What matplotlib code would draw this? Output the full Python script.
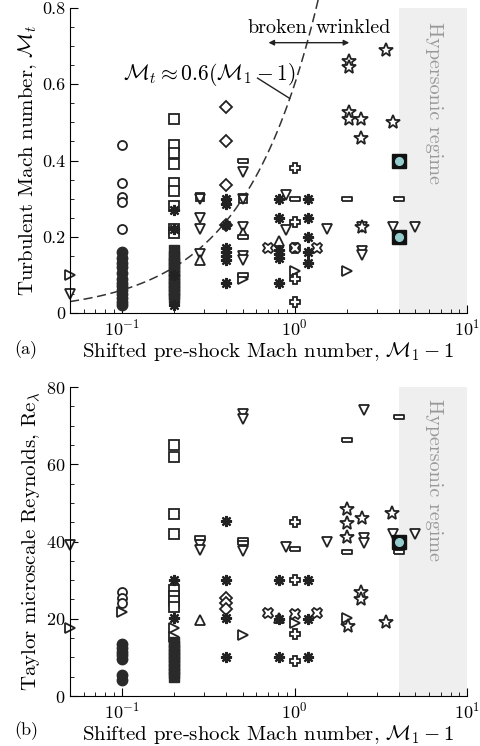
import numpy as np
import matplotlib
matplotlib.use('Agg')
import matplotlib.pyplot as plt
from matplotlib.ticker import MultipleLocator, LogLocator, NullFormatter

plt.rcParams['font.family'] = 'cmr10'
plt.rcParams['mathtext.fontset'] = 'cm'
plt.rcParams['axes.formatter.use_mathtext'] = True
plt.rcParams['axes.unicode_minus'] = False

# ---- data: panel (a), turbulent Mach number ----
mt_circ_open = [0.44, 0.34, 0.305, 0.29, 0.22]
mt_circ_fill = [0.16, 0.145, 0.13, 0.12, 0.105, 0.09, 0.08, 0.07, 0.06, 0.05, 0.04, 0.03, 0.02]
mt_sq_open = [0.51, 0.44, 0.42, 0.39, 0.34, 0.32, 0.28, 0.22, 0.21]
mt_sq_fill = [0.165, 0.15, 0.14, 0.13, 0.12, 0.11, 0.10, 0.09, 0.08, 0.07, 0.06, 0.05, 0.04]
mt_ast_x = [0.2, 0.2, 0.2, 0.2, 0.4, 0.4, 0.4, 0.4, 0.4, 0.4, 0.4, 0.4,
            0.81, 0.81, 0.81, 0.81, 0.81, 0.81, 1.2, 1.2, 1.2, 1.2, 1.2]
mt_ast_y = [0.27, 0.22, 0.10, 0.02, 0.30, 0.285, 0.23, 0.17, 0.16, 0.15, 0.14, 0.078,
            0.30, 0.25, 0.165, 0.155, 0.145, 0.078, 0.30, 0.25, 0.20, 0.16, 0.13]
mt_tdn_x = [0.05, 0.283, 0.283, 0.283, 0.283, 0.5, 0.5, 0.5, 0.5, 0.5, 0.89, 0.89, 1.53,
            2.47, 2.47, 2.47, 3.7, 5.0]
mt_tdn_y = [0.05, 0.30, 0.25, 0.22, 0.155, 0.37, 0.30, 0.225, 0.15, 0.14, 0.31, 0.218, 0.22,
            0.226, 0.163, 0.153, 0.226, 0.226]
mt_tup_x = [0.283, 0.5, 0.81]
mt_tup_y = [0.14, 0.21, 0.19]
mt_trt_x = [0.05, 0.5, 1.0, 2.0]
mt_trt_y = [0.10, 0.09, 0.11, 0.11]
mt_boxq_x = [0.283, 0.5]
mt_boxq_y = [0.305, 0.30]
mt_rect_x = [0.5, 0.5, 0.5, 1.0, 2.0, 4.0]
mt_rect_y = [0.40, 0.20, 0.10, 0.30, 0.30, 0.30]
mt_dia_x = [0.4, 0.4, 0.4, 0.4]
mt_dia_y = [0.54, 0.45, 0.335, 0.23]
mt_plus_x = [1.0, 1.0, 1.0, 1.0, 1.0]
mt_plus_y = [0.38, 0.24, 0.17, 0.09, 0.03]
mt_x_x = [0.7, 1.0, 1.34]
mt_x_y = [0.17, 0.17, 0.17]
mt_star_x = [2.07, 2.07, 2.07, 2.07, 2.43, 2.43, 3.4, 3.7, 2.47]
mt_star_y = [0.66, 0.645, 0.527, 0.51, 0.51, 0.46, 0.69, 0.50, 0.226]
mt_cyan_x = [4.0, 4.0]
mt_cyan_y = [0.40, 0.20]

# ---- data: panel (b), Taylor microscale Reynolds number ----
re_circ_open = [27, 25.4, 24]
re_circ_fill = [13.5, 12.5, 11.5, 10.5, 9.5, 5.5, 4.2]
re_sq_open = [65, 62, 47, 42, 27.5, 26, 24.5, 23]
re_sq_fill = [14, 13, 12, 11, 10, 9, 8, 7, 6, 5]
re_ast_x = [0.2, 0.2, 0.4, 0.4, 0.4, 0.4, 0.81, 0.81, 0.81, 1.2, 1.2, 1.2]
re_ast_y = [30, 20.2, 45.2, 30, 20.2, 10, 30, 20, 10, 30, 20, 10]
re_trt_x = [0.05, 0.1, 0.2, 0.2, 0.5, 1.0, 2.0]
re_trt_y = [17.7, 21.8, 17.7, 15.3, 15.8, 19, 20.3]
re_tdn_x = [0.05, 0.283, 0.283, 0.5, 0.5, 0.5, 0.5, 0.89, 1.53, 2.53, 2.53, 2.53, 3.7, 5.0]
re_tdn_y = [39, 39, 37.7, 73, 71.7, 38.7, 37.5, 38.7, 40, 74, 41, 39.7, 42, 42]
re_tup_x = [0.283, 0.81]
re_tup_y = [19.7, 20.3]
re_rect_x = [0.283, 0.5, 0.5, 1.0, 2.0, 2.0, 4.0, 4.0]
re_rect_y = [41, 40.5, 39.5, 38, 66.2, 37.2, 72.2, 37.2]
re_dia_x = [0.4, 0.4, 0.4]
re_dia_y = [25.5, 24, 22.5]
re_plus_x = [1.0, 1.0, 1.0, 1.0]
re_plus_y = [45, 30, 16, 9.1]
re_x_x = [0.7, 1.0, 1.34]
re_x_y = [21.5, 21.3, 21.5]
re_star_x = [2.0, 2.0, 2.0, 2.47, 3.67, 2.43, 2.43, 2.05, 3.4]
re_star_y = [48.3, 44.7, 41.3, 46.2, 47.3, 27, 25, 18, 19.2]
re_cyan_x = [4.0]
re_cyan_y = [40]

hyper_start = 4.0
curve_coef = 0.6

ec = '#222222'
rect_marker = [(-1, -0.4), (1, -0.4), (1, 0.4), (-1, 0.4), (-1, -0.4)]
open_kw = dict(ls='none', mfc='white', mec=ec, mew=1.3)


def draw_points(ax, d):
    ax.plot(d['trt'][0], d['trt'][1], marker='>', ms=7.5, **open_kw)
    ax.plot(d['tdn'][0], d['tdn'][1], marker='v', ms=7.5, **open_kw)
    ax.plot(d['tup'][0], d['tup'][1], marker='^', ms=7.5, **open_kw)
    ax.plot([0.1] * len(d['co']), d['co'], marker='o', ms=6.5, **open_kw)
    ax.plot([0.1] * len(d['cf']), d['cf'], marker='o', ms=7.5, ls='none', mfc='#2a2a2a', mec='#2a2a2a')
    ax.plot([0.2] * len(d['so']), d['so'], marker='s', ms=6.5, **open_kw)
    ax.plot([0.2] * len(d['sf']), d['sf'], marker='s', ms=7.5, ls='none', mfc='#2a2a2a', mec='#2a2a2a')
    if d.get('bq'):
        ax.plot(d['bq'][0], d['bq'][1], marker='s', ms=6, ls='none', mfc='none', mec=ec, mew=1.3)
    ax.plot(d['rect'][0], d['rect'][1], marker=rect_marker, ms=7.5, **open_kw)
    ax.plot(d['dia'][0], d['dia'][1], marker='D', ms=6.5, **open_kw)
    ax.plot(d['plus'][0], d['plus'][1], marker='P', ms=7.5, **open_kw)
    ax.plot(d['x'][0], d['x'][1], marker='X', ms=7.5, **open_kw)
    ax.plot(d['ast'][0], d['ast'][1], marker=(8, 2, 0), ms=8, ls='none', mec=ec, mew=1.6)
    ax.plot(d['star'][0], d['star'][1], marker='*', ms=10, **open_kw)
    ax.plot(d['cyan'][0], d['cyan'][1], marker='s', ms=9.5, ls='none', mfc='#111111', mec='#111111')
    ax.plot(d['cyan'][0], d['cyan'][1], marker='o', ms=5.5, ls='none', mfc='#96cccc', mec='#96cccc')


def style_axes(ax, minor_step):
    ax.set_xscale('log')
    ax.set_xlim(0.05, 10)
    ax.axvspan(hyper_start, 10, color='#efefef', zorder=0, lw=0)
    ax.spines['top'].set_visible(False)
    ax.spines['right'].set_visible(False)
    ax.tick_params(which='both', direction='in', labelsize=13)
    ax.tick_params(which='major', length=6)
    ax.tick_params(which='minor', length=3)
    ax.yaxis.set_minor_locator(MultipleLocator(minor_step))
    ax.xaxis.set_major_locator(LogLocator(base=10))
    ax.xaxis.set_minor_locator(LogLocator(base=10, subs=np.arange(2, 10)))
    ax.xaxis.set_minor_formatter(NullFormatter())
    ax.set_xlabel(r'Shifted pre-shock Mach number, $\mathcal{M}_1-1$', fontsize=15, labelpad=1)


fig = plt.figure(figsize=(4.81, 7.46), dpi=100)
ax1 = fig.add_axes([0.1455, 0.5804, 0.826, 0.4089])
ax2 = fig.add_axes([0.1455, 0.067, 0.826, 0.4142])

# panel (a)
style_axes(ax1, 0.05)
ax1.set_ylim(0, 0.8)
ax1.yaxis.set_major_locator(MultipleLocator(0.2))
ax1.yaxis.set_major_formatter(plt.FuncFormatter(lambda v, p: '0' if v == 0 else '%.1f' % v))
xc = np.logspace(np.log10(0.05), np.log10(1.4), 200)
ax1.plot(xc, curve_coef * xc, ls=(0, (6, 3)), color='#333333', lw=1.1, zorder=1)
draw_points(ax1, dict(co=mt_circ_open, cf=mt_circ_fill, so=mt_sq_open, sf=mt_sq_fill,
                      ast=(mt_ast_x, mt_ast_y), tdn=(mt_tdn_x, mt_tdn_y), tup=(mt_tup_x, mt_tup_y),
                      trt=(mt_trt_x, mt_trt_y), bq=(mt_boxq_x, mt_boxq_y), rect=(mt_rect_x, mt_rect_y),
                      dia=(mt_dia_x, mt_dia_y), plus=(mt_plus_x, mt_plus_y), x=(mt_x_x, mt_x_y),
                      star=(mt_star_x, mt_star_y), cyan=(mt_cyan_x, mt_cyan_y)))
ax1.set_ylabel(r'Turbulent Mach number, $\mathcal{M}_t$', fontsize=15, labelpad=2)
ax1.text(0.102, 0.626, r'$\mathcal{M}_t \approx 0.6(\mathcal{M}_1-1)$', fontsize=15.5, va='center')
ax1.plot([0.61, 0.935], [0.616, 0.563], color='#222222', lw=1)
ax1.annotate('', xy=(0.68, 0.709), xytext=(2.15, 0.709),
             arrowprops=dict(arrowstyle='<|-|>', color='#222222', lw=1, mutation_scale=8))
ax1.text(1.18, 0.748, 'broken', fontsize=14.5, ha='right', va='center')
ax1.text(1.32, 0.748, 'wrinkled', fontsize=14.5, ha='left', va='center')
ax1.text(6.4, 0.55, 'Hypersonic regime', rotation=270, fontsize=14.5, color='#999999',
         ha='center', va='center')
fig.text(0.03, 0.531, '(a)', fontsize=13, va='center')

# panel (b)
style_axes(ax2, 5)
ax2.set_ylim(0, 80)
ax2.yaxis.set_major_locator(MultipleLocator(20))
draw_points(ax2, dict(co=re_circ_open, cf=re_circ_fill, so=re_sq_open, sf=re_sq_fill,
                      ast=(re_ast_x, re_ast_y), tdn=(re_tdn_x, re_tdn_y), tup=(re_tup_x, re_tup_y),
                      trt=(re_trt_x, re_trt_y), rect=(re_rect_x, re_rect_y),
                      dia=(re_dia_x, re_dia_y), plus=(re_plus_x, re_plus_y), x=(re_x_x, re_x_y),
                      star=(re_star_x, re_star_y), cyan=(re_cyan_x, re_cyan_y)))
ax2.set_ylabel(r'Taylor microscale Reynolds, Re$_\lambda$', fontsize=15, labelpad=2)
ax2.text(6.4, 55.8, 'Hypersonic regime', rotation=270, fontsize=14.5, color='#999999',
         ha='center', va='center')
fig.text(0.03, 0.021, '(b)', fontsize=13, va='center')

for ax in (ax1, ax2):
    for ln in ax.lines:
        ln.set_clip_on(False)

fig.savefig('out.png', dpi=100)
